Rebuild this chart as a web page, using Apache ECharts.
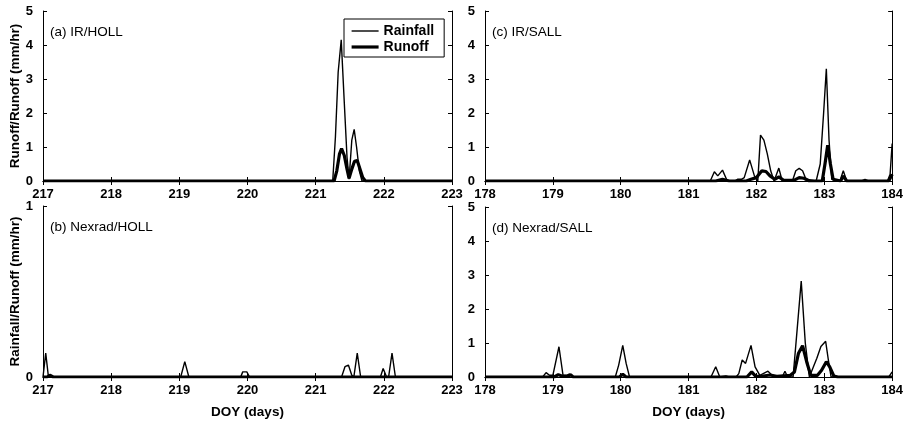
<!DOCTYPE html>
<html>
<head>
<meta charset="utf-8">
<script src="https://cdn.jsdelivr.net/npm/echarts@6/dist/echarts.min.js"></script>
<style>html,body{margin:0;padding:0;background:#fff}#c{width:906px;height:423px}</style>
</head>
<body>
<div id="c"></div>
<script>
// ---- Data (DOY, mm/hr) ----
var panelTitles = ['(a) IR/HOLL', '(c) IR/SALL', '(b) Nexrad/HOLL', '(d) Nexrad/SALL'];
var xRangeHOLL = [217, 223];
var xRangeSALL = [178, 184];
var yMaxTop = 5, yMaxB = 1, yMaxD = 5;

// (a) IR/HOLL
var aRainDay = [217, 221.25, 221.29, 221.33, 221.375, 221.42, 221.46, 221.49, 221.53, 221.565, 221.6, 221.64, 221.68, 223];
var aRainVal = [0, 0, 1.3, 3.2, 4.15, 2.3, 0.7, 0.05, 1.2, 1.52, 1.0, 0.3, 0, 0];
var aRunDay = [217, 221.27, 221.31, 221.35, 221.38, 221.42, 221.46, 221.49, 221.53, 221.57, 221.61, 221.65, 221.69, 221.73, 223];
var aRunVal = [0, 0, 0.3, 0.8, 0.95, 0.75, 0.35, 0.08, 0.35, 0.58, 0.6, 0.35, 0.1, 0, 0];

// (b) Nexrad/HOLL
var bRainDay = [217, 217.04, 217.08, 219.02, 219.08, 219.14, 219.9, 219.93, 219.99, 220.03, 221.38, 221.43, 221.48, 221.53, 221.56, 221.61, 221.66, 221.95, 221.99, 222.04, 222.07, 222.12, 222.17, 223];
var bRainVal = [0, 0.14, 0, 0, 0.09, 0, 0, 0.03, 0.03, 0, 0, 0.06, 0.07, 0.01, 0, 0.14, 0, 0, 0.05, 0, 0, 0.14, 0, 0];
var bRunDay = [217, 217.06, 217.1, 217.15, 223];
var bRunVal = [0, 0, 0.01, 0, 0];

// (c) IR/SALL
var cRainDay = [178, 181.32, 181.38, 181.43, 181.5, 181.57, 181.68, 181.72, 181.78, 181.82, 181.9, 181.97, 182.02, 182.06, 182.11, 182.16, 182.21, 182.26, 182.33, 182.38, 182.53, 182.58, 182.63, 182.68, 182.73, 182.88, 182.94, 182.99, 183.03, 183.07, 183.11, 183.23, 183.28, 183.33, 183.55, 183.6, 183.65, 183.93, 183.97, 184];
var cRainVal = [0, 0, 0.27, 0.15, 0.32, 0, 0, 0.05, 0.05, 0.1, 0.62, 0.15, 0, 1.35, 1.2, 0.8, 0.3, 0, 0.38, 0, 0, 0.3, 0.37, 0.3, 0.05, 0, 0.5, 2.0, 3.3, 1.2, 0.05, 0, 0.3, 0, 0, 0.05, 0, 0, 0.2, 1.1];
var cRunDay = [178, 181.4, 181.5, 181.6, 181.85, 181.92, 182.0, 182.08, 182.14, 182.2, 182.27, 182.33, 182.4, 182.55, 182.63, 182.7, 182.78, 182.97, 183.01, 183.05, 183.09, 183.13, 183.24, 183.28, 183.33, 183.95, 184];
var cRunVal = [0, 0, 0.05, 0, 0, 0.05, 0.1, 0.3, 0.28, 0.15, 0.05, 0.12, 0.02, 0.02, 0.1, 0.08, 0, 0, 0.5, 1.05, 0.5, 0.05, 0, 0.15, 0, 0, 0.2];

// (d) Nexrad/SALL
var dRainDay = [178, 178.85, 178.9, 178.95, 179.0, 179.09, 179.15, 179.2, 179.24, 179.29, 179.92, 179.97, 180.03, 180.08, 180.13, 181.33, 181.4, 181.46, 181.55, 181.6, 181.7, 181.74, 181.79, 181.84, 181.92, 181.98, 182.05, 182.1, 182.17, 182.23, 182.3, 182.38, 182.42, 182.46, 182.54, 182.6, 182.66, 182.72, 182.78, 182.84, 182.89, 182.95, 183.02, 183.06, 183.1, 183.95, 184];
var dRainVal = [0, 0, 0.13, 0.05, 0.05, 0.89, 0.05, 0.05, 0.08, 0, 0, 0.35, 0.93, 0.4, 0, 0, 0.3, 0, 0.03, 0, 0, 0.1, 0.5, 0.4, 0.93, 0.3, 0.05, 0.1, 0.17, 0.05, 0, 0, 0.17, 0, 0, 1.4, 2.82, 1.0, 0, 0.3, 0.55, 0.9, 1.05, 0.5, 0, 0, 0.15];
var dRunDay = [178, 179.02, 179.08, 179.14, 179.22, 179.26, 179.3, 179.98, 180.03, 180.08, 181.86, 181.93, 181.99, 182.1, 182.2, 182.3, 182.5, 182.56, 182.62, 182.68, 182.74, 182.8, 182.9, 182.96, 183.03, 183.08, 183.14, 183.2, 184];
var dRunVal = [0, 0, 0.07, 0.02, 0.02, 0.07, 0, 0, 0.08, 0, 0, 0.15, 0.02, 0.03, 0.06, 0.02, 0.05, 0.15, 0.7, 0.92, 0.45, 0.05, 0.05, 0.2, 0.45, 0.3, 0.03, 0, 0];

// ---- Build ----
function pairs(d, v) { return d.map(function (x, i) { return [x, v[i]]; }); }
var FONT = 'Liberation Sans, Arial, Helvetica, sans-serif';
var RAIN_W = 1.4, RUN_W = 3.2;

var grids = [
  {left: 43, top: 11, width: 409, height: 170},
  {left: 485, top: 11, width: 410, height: 170},
  {left: 43, top: 206, width: 409, height: 171},
  {left: 485, top: 207, width: 410, height: 170}
];
var xr = [xRangeHOLL, xRangeSALL, xRangeHOLL, xRangeSALL];
var ymax = [yMaxTop, yMaxTop, yMaxB, yMaxD];
var yNames = ['Runoff/Runoff (mm/hr)', '', 'Rainfall/Runoff (mm/hr)', ''];
var xNames = ['', '', 'DOY (days)', 'DOY (days)'];
var rain = [pairs(aRainDay, aRainVal), pairs(cRainDay, cRainVal), pairs(bRainDay, bRainVal), pairs(dRainDay, dRainVal)];
var run = [pairs(aRunDay, aRunVal), pairs(cRunDay, cRunVal), pairs(bRunDay, bRunVal), pairs(dRunDay, dRunVal)];

var xAxes = [], yAxes = [], series = [], titles = [];
var lineS = {show: true, lineStyle: {color: '#000', width: 1}};
var tickIn = {show: true, inside: true, length: 4, lineStyle: {color: '#000', width: 1}};
var lab = {color: '#000', fontFamily: FONT, fontWeight: 'bold', fontSize: 13};
var nameS = {color: '#000', fontFamily: FONT, fontWeight: 'bold', fontSize: 13.5};

for (var i = 0; i < 4; i++) {
  xAxes.push({
    type: 'value', gridIndex: i, position: 'bottom', min: xr[i][0], max: xr[i][1], interval: 1,
    axisLine: lineS, axisTick: tickIn, splitLine: {show: false},
    axisLabel: Object.assign({margin: 7, showMinLabel: true, showMaxLabel: true}, lab),
    name: xNames[i], nameLocation: 'middle', nameGap: 28, nameTextStyle: nameS
  });
  xAxes.push({
    type: 'value', gridIndex: i, position: 'top', min: xr[i][0], max: xr[i][1], interval: 1,
    axisLine: lineS, axisTick: tickIn, splitLine: {show: false}, axisLabel: {show: false}
  });
  yAxes.push({
    type: 'value', gridIndex: i, position: 'left', min: 0, max: ymax[i], interval: 1,
    axisLine: lineS, axisTick: tickIn, splitLine: {show: false},
    axisLabel: Object.assign({margin: 10}, lab),
    name: yNames[i], nameLocation: 'middle', nameGap: 17, nameTextStyle: nameS
  });
  yAxes.push({
    type: 'value', gridIndex: i, position: 'right', min: 0, max: ymax[i], interval: 1,
    axisLine: lineS, axisTick: tickIn, splitLine: {show: false}, axisLabel: {show: false}
  });
  series.push({
    name: 'Rainfall', type: 'line', xAxisIndex: 2 * i, yAxisIndex: 2 * i, data: rain[i],
    symbol: 'none', clip: true, lineStyle: {color: '#000', width: RAIN_W}, itemStyle: {color: '#000'}, z: 3
  });
  series.push({
    name: 'Runoff', type: 'line', xAxisIndex: 2 * i, yAxisIndex: 2 * i, data: run[i],
    symbol: 'none', clip: true, lineStyle: {color: '#000', width: RUN_W}, itemStyle: {color: '#000'}, z: 4
  });
  titles.push({
    text: panelTitles[i], left: grids[i].left + 7, top: grids[i].top + 14,
    padding: 0,
    textStyle: {color: '#000', fontFamily: FONT, fontWeight: 'normal', fontSize: 13.5}
  });
}

var chart = echarts.init(document.getElementById('c'), null, {renderer: 'canvas'});
chart.setOption({
  backgroundColor: '#fff',
  animation: false,
  title: titles,
  grid: grids,
  xAxis: xAxes,
  yAxis: yAxes,
  legend: {
    show: true, type: 'plain',
    orient: 'vertical', left: 344, top: 19,
    backgroundColor: '#fff', borderColor: '#000', borderWidth: 1,
    padding: [5, 10, 3, 6], itemGap: 2, itemWidth: 27, itemHeight: 14,
    textStyle: {color: '#000', fontFamily: FONT, fontWeight: 'bold', fontSize: 14},
    itemStyle: {color: 'rgba(0,0,0,0)', borderWidth: 0, opacity: 0},
    data: [
      {name: 'Rainfall', lineStyle: {color: '#000', width: RAIN_W}},
      {name: 'Runoff', lineStyle: {color: '#000', width: RUN_W}}
    ],
    selectedMode: false,
    z: 10
  },
  series: series
});
</script>
</body>
</html>
